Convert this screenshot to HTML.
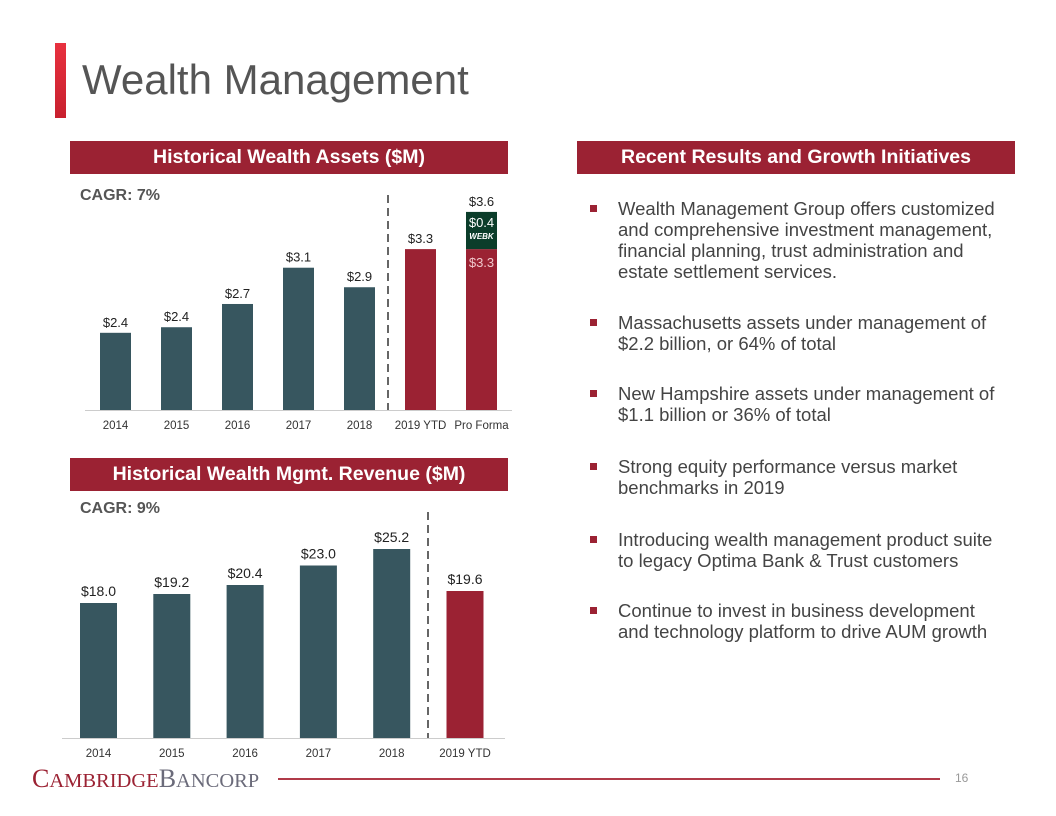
<!DOCTYPE html>
<html><head><meta charset="utf-8">
<style>
*{margin:0;padding:0;box-sizing:border-box}
body{width:1056px;height:816px;background:#fff;position:relative;overflow:hidden;font-family:"Liberation Sans",sans-serif}
.abs{position:absolute}
.hdr{position:absolute;height:33px;background:#9b2233;color:#fff;font-weight:bold;font-size:19.5px;text-align:center;line-height:33px}
.cagr{position:absolute;font-weight:bold;font-size:16px;color:#555}
.bl{position:absolute;left:590px;width:410px;font-size:18.5px;line-height:21px;color:#444;padding-left:28px}
.bl:before{content:"";position:absolute;left:0;top:7px;width:7px;height:7px;background:#9b2233}
svg text{font-family:"Liberation Sans",sans-serif}
</style></head><body>
<div class="abs" style="left:55px;top:43px;width:11px;height:75px;background:linear-gradient(#e8313f,#c8202e)"></div>
<div class="abs" style="left:82px;top:55px;font-size:42px;color:#555;line-height:50px">Wealth Management</div>

<div class="hdr" style="left:70px;top:141px;width:438px">Historical Wealth Assets ($M)</div>
<div class="cagr" style="left:80px;top:187px">CAGR: 7%</div>
<div class="hdr" style="left:70px;top:458px;width:438px">Historical Wealth Mgmt. Revenue ($M)</div>
<div class="cagr" style="left:80px;top:500px">CAGR: 9%</div>
<div class="hdr" style="left:577px;top:141px;width:438px">Recent Results and Growth Initiatives</div>

<div class="bl" style="top:198px">Wealth Management Group offers customized and comprehensive investment management, financial planning, trust administration and estate settlement services.</div>
<div class="bl" style="top:312px">Massachusetts assets under management of $2.2 billion, or 64% of total</div>
<div class="bl" style="top:383px">New Hampshire assets under management of $1.1 billion or 36% of total</div>
<div class="bl" style="top:456px">Strong equity performance versus market benchmarks in 2019</div>
<div class="bl" style="top:529px">Introducing wealth management product suite to legacy Optima Bank &amp; Trust customers</div>
<div class="bl" style="top:600px">Continue to invest in business development and technology platform to drive AUM growth</div>

<svg id="c1" class="abs" style="left:0;top:0" width="1056" height="816"></svg>

<div class="abs" style="left:32px;top:764px;font-family:'Liberation Serif',serif;font-size:26px;line-height:30px;white-space:nowrap"><span style="color:#9b2233">C<span style="font-size:20.5px">AMBRIDGE</span></span><span style="color:#6b6b7a">B<span style="font-size:20.5px">ANCORP</span></span></div>
<div class="abs" style="left:278px;top:778px;width:662px;height:2px;background:#b03a48"></div>
<div class="abs" style="left:955px;top:771px;font-size:12px;color:#999">16</div>

<script>
const assetCats=["2014","2015","2016","2017","2018","2019 YTD","Pro Forma"];
const assetVals=[2.4,2.46,2.71,3.1,2.89,3.3,3.3];
const assetExtra=[0,0,0,0,0,0,0.4];
const assetLabels=["$2.4","$2.4","$2.7","$3.1","$2.9","$3.3","$3.6"];
const revCats=["2014","2015","2016","2017","2018","2019 YTD"];
const revVals=[18.0,19.2,20.4,23.0,25.2,19.6];
const revLabels=["$18.0","$19.2","$20.4","$23.0","$25.2","$19.6"];
const NS="http://www.w3.org/2000/svg";
const svg=document.getElementById('c1');
function mk(t,a,txt){const e=document.createElementNS(NS,t);for(const k in a)e.setAttribute(k,a[k]);if(txt!==undefined)e.textContent=txt;svg.appendChild(e);return e;}
const DARK="#37565f",RED="#9b2233",GREEN="#0b3d2a";
const x1=i=>115.5+i*61, y1=v=>410-(v-1.57)*93;
let e=mk('line',{x1:85,x2:512,y1:410.5,y2:410.5,stroke:'#ccc'});

e=mk('line',{x1:388,x2:388,y1:195,y2:410,stroke:'#666','stroke-width':2,'stroke-dasharray':'8,5'});

assetCats.forEach((c,i)=>{
  const col=i>=5?RED:DARK, top=y1(assetVals[i]);
  let r=mk('rect',{x:x1(i)-15.5,y:top,width:31,height:410-top,fill:col});
  
  
  let lt=top;
  if(assetExtra[i]>0){
    const t2=y1(assetVals[i]+assetExtra[i]);
    let g=mk('rect',{x:x1(i)-15.5,y:t2,width:31,height:top-t2,fill:GREEN});
    
    let a=mk('text',{x:x1(i),y:t2+15,'text-anchor':'middle','font-size':13,fill:'#fff'},'$'+assetExtra[i].toFixed(1));
    
    a=mk('text',{x:x1(i),y:t2+27,'text-anchor':'middle','font-size':8,'font-style':'italic','font-weight':'bold',fill:'#fff'},'WEBK');
    
    a=mk('text',{x:x1(i),y:top+18,'text-anchor':'middle','font-size':13,fill:'#f0c8cc'},'$'+assetVals[i].toFixed(1));
    
    lt=t2;
  }
  let l=mk('text',{x:x1(i),y:lt-6,'text-anchor':'middle','font-size':13,fill:'#222'},assetLabels[i]);
  
  l=mk('text',{x:x1(i),y:429,'text-anchor':'middle','font-size':11.5,fill:'#333'},c);
  
});
const x2=i=>98.5+i*73.3, y2=v=>738-v*7.5;
e=mk('line',{x1:62,x2:505,y1:738.5,y2:738.5,stroke:'#ccc'});

e=mk('line',{x1:428,x2:428,y1:512,y2:738,stroke:'#666','stroke-width':2,'stroke-dasharray':'8,5'});

revCats.forEach((c,i)=>{
  const col=i>=5?RED:DARK, top=y2(revVals[i]);
  let r=mk('rect',{x:x2(i)-18.5,y:top,width:37,height:738-top,fill:col});
  
  
  let l=mk('text',{x:x2(i),y:top-7,'text-anchor':'middle','font-size':14,fill:'#222'},revLabels[i]);
  
  l=mk('text',{x:x2(i),y:757,'text-anchor':'middle','font-size':11.5,fill:'#333'},c);
  
});
</script>
</body></html>
